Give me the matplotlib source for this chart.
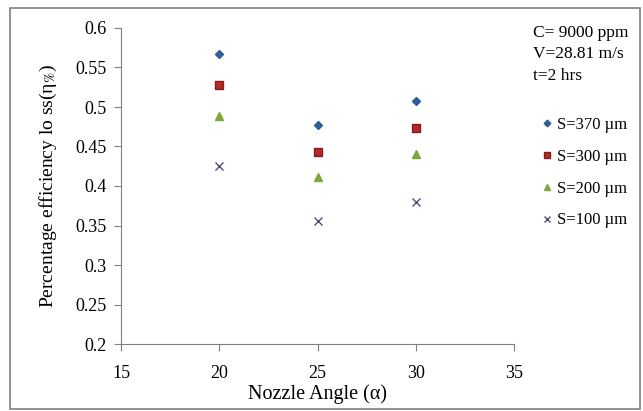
import matplotlib
matplotlib.use("Agg")
import matplotlib.pyplot as plt
from matplotlib.patches import Rectangle

plt.rcParams['font.family'] = ['Liberation Serif', 'DejaVu Serif']
plt.rcParams['mathtext.fontset'] = 'stix'

angles = [20, 25, 30]
series_labels = ["S=370 µm", "S=300 µm", "S=200 µm", "S=100 µm"]
s370 = [0.567, 0.477, 0.508]
s300 = [0.528, 0.443, 0.474]
s200 = [0.489, 0.412, 0.440]
s100 = [0.425, 0.356, 0.380]
x_ticks = [15, 20, 25, 30, 35]
y_ticks = [0.2, 0.25, 0.3, 0.35, 0.4, 0.45, 0.5, 0.55, 0.6]
y_tick_labels = ["0.2", "0.25", "0.3", "0.35", "0.4", "0.45", "0.5", "0.55", "0.6"]

fig = plt.figure(figsize=(6.43, 4.11), dpi=100)
fig.patches.append(Rectangle((10/643, 2/411), 630/643, 401/411, transform=fig.transFigure,
                             fill=False, edgecolor='#808080', linewidth=1.2))
ax = fig.add_axes([121/643, 1 - 344/411, (514-121)/643, (344-28)/411])

styles = [
    dict(marker='D', color='#2E5E9A', ms=4.5, mec='#2E5E9A'),
    dict(marker='s', color='#B22A2A', ms=6, mec='#8B1A1A'),
    dict(marker='^', color='#7FA83C', ms=6, mec='#7FA83C'),
    dict(marker='x', color='#5B4A7A', ms=6, mew=1.0),
]
for vals, lab, st in zip([s370, s300, s200, s100], series_labels, styles):
    ax.plot(angles, vals, linestyle='none', label=lab, **st)

ax.set_xlim(15, 35)
ax.set_ylim(0.2, 0.6)
ax.set_xticks(x_ticks)
ax.set_xticklabels([str(t) for t in x_ticks], fontsize=13)
ax.set_yticks(y_ticks)
ax.set_yticklabels(y_tick_labels, fontsize=13)
ax.spines['top'].set_visible(False)
ax.spines['right'].set_visible(False)
for s in ['left', 'bottom']:
    ax.spines[s].set_color('#808080')
ax.tick_params(axis='both', colors='#808080', labelcolor='black', length=5, direction='out')
ax.tick_params(axis='x', pad=10)
ax.tick_params(axis='y', pad=5)
ax.set_xlabel("Nozzle Angle (α)", fontsize=14.5, labelpad=2)
ax.set_ylabel(r"Percentage efficiency lo ss(η$_{\%}$)", fontsize=14, labelpad=12)

leg = fig.legend(loc='upper left', bbox_to_anchor=(527/643, 1 - 102/411), frameon=False,
                 fontsize=12, handlelength=0.6, handletextpad=0.3, labelspacing=0.95,
                 markerscale=0.75)

fig.text(533/643, 1 - 25/411, "C= 9000 ppm\nV=28.81 m/s\nt=2 hrs", fontsize=12.5,
         va='top', ha='left', linespacing=1.45)

fig.savefig("out.png", dpi=100)
